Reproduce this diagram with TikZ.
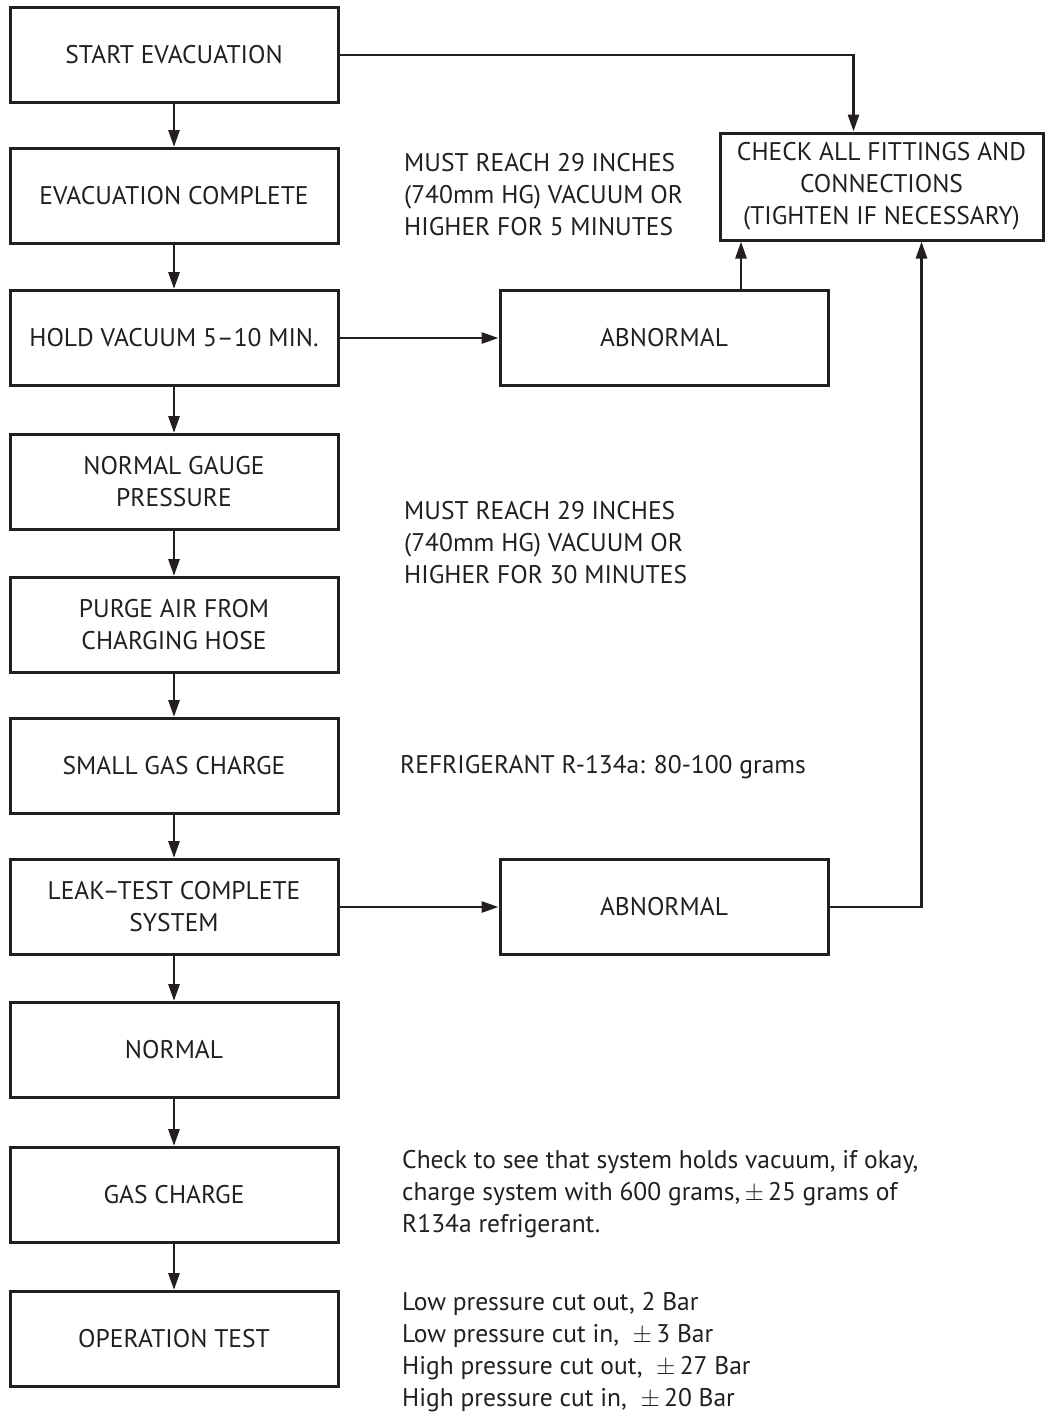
\documentclass[tikz,border=0pt]{standalone}
\usepackage{fontspec}
\setmainfont{PT Sans}
\usetikzlibrary{arrows.meta}
\definecolor{ink}{HTML}{231F20}
\tikzset{
  stepbox/.style={draw=ink, line width=3pt, minimum width=328pt, minimum height=95pt, inner sep=0pt, align=center},
  note/.style={anchor=west, align=left, inner sep=0pt},
  flow/.style={draw=ink, line width=2.8pt, -{Triangle[length=17pt,width=11pt]}},
}
\begin{document}
\begin{tikzpicture}[x=1pt,y=-1pt,font=\fontsize{25.5}{32}\selectfont,text=ink]
    \useasboundingbox (0,0) rectangle (1045,1414);
    \node[stepbox] (start) at (174,55) {START EVACUATION};
    \node[stepbox] (evac) at (174,196) {EVACUATION COMPLETE};
    \node[stepbox] (hold) at (174,338) {HOLD VACUUM 5–10 MIN.};
    \node[stepbox] (gauge) at (174,482) {NORMAL GAUGE\\PRESSURE};
    \node[stepbox] (purge) at (174,625) {PURGE AIR FROM\\CHARGING HOSE};
    \node[stepbox] (small) at (174,766) {SMALL GAS CHARGE};
    \node[stepbox] (leak) at (174,907) {LEAK–TEST COMPLETE\\SYSTEM};
    \node[stepbox] (normal) at (174,1050) {NORMAL};
    \node[stepbox] (gas) at (174,1195) {GAS CHARGE};
    \node[stepbox] (optest) at (174,1339) {OPERATION TEST};
    \node[stepbox, minimum width=323pt, minimum height=107pt] (check) at (881.5,186.5) {CHECK ALL FITTINGS AND\\CONNECTIONS\\(TIGHTEN IF NECESSARY)};
    \node[stepbox] (abnA) at (664,338) {ABNORMAL};
    \node[stepbox] (abnB) at (664,907) {ABNORMAL};
    \node[note] (vacfive) at (404,195) {MUST REACH 29 INCHES\\(740mm HG) VACUUM OR\\HIGHER FOR 5 MINUTES};
    \node[note] (vacthirty) at (404,543) {MUST REACH 29 INCHES\\(740mm HG) VACUUM OR\\HIGHER FOR 30 MINUTES};
    \node[note] (smallgrams) at (400,767) {REFRIGERANT R-134a: 80-100 grams};
    \node[note] (fullgrams) at (402,1194) {Check to see that system holds vacuum, if okay,\\charge system with 600 grams,\,$\pm$\,25 grams of\\R134a refrigerant.};
    \node[note] (cutouts) at (402,1352) {Low pressure cut out, 2 Bar\\Low pressure cut in, \ $\pm$\,3 Bar\\High pressure cut out, \ $\pm$\,27 Bar\\High pressure cut in, \ $\pm$\,20 Bar};
    \draw[flow] (start) -- (evac);
    \draw[flow] (evac) -- (hold);
    \draw[flow] (hold) -- (gauge);
    \draw[flow] (gauge) -- (purge);
    \draw[flow] (purge) -- (small);
    \draw[flow] (small) -- (leak);
    \draw[flow] (leak) -- (normal);
    \draw[flow] (normal) -- (gas);
    \draw[flow] (gas) -- (optest);
    \draw[flow] (hold) -- (abnA);
    \draw[flow] (leak) -- (abnB);
    \draw[flow] (start.east) -| ([xshift=-28pt]check.north);
    \draw[flow] ([xshift=77pt]abnA.north) -- ([xshift=77pt]abnA.north |- check.south);
    \draw[flow] (abnB.east) -| ([xshift=40pt]check.south);
\end{tikzpicture}
\end{document}
